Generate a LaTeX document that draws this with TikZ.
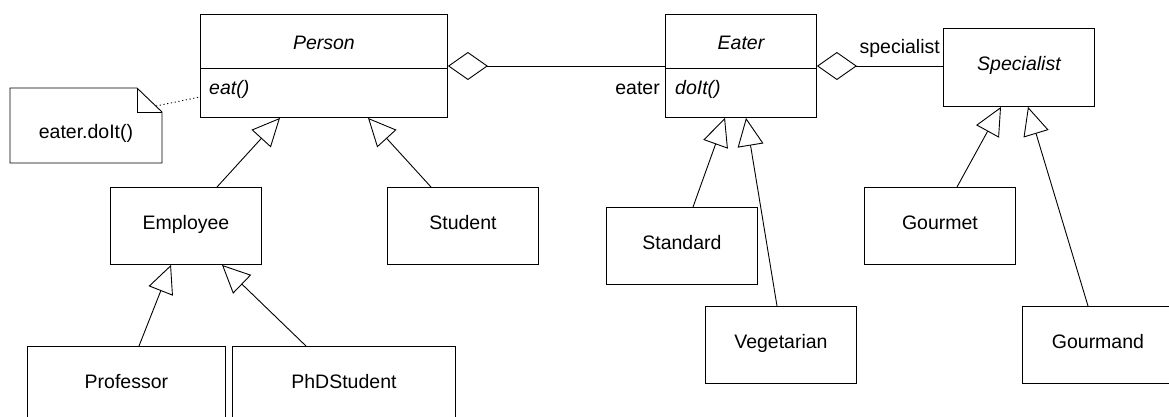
\documentclass[tikz,border=0pt]{standalone}
\usepackage{fontspec}
\setmainfont{Liberation Sans}
\usetikzlibrary{arrows.meta}
\begin{document}
\begin{tikzpicture}[x=1pt,y=-1pt,
  every node/.style={font=\fontsize{19.5}{23}\selectfont},
  cls/.style={draw, line width=0.9pt, anchor=north west, inner sep=0pt,
    minimum width=151pt, text height=42pt, text depth=35pt},
  abscls/.style={cls, font=\fontsize{19.5}{23}\selectfont\itshape},
  meth/.style={anchor=base west, inner sep=0pt, font=\fontsize{19.5}{23}\selectfont\itshape},
  role/.style={anchor=base east, inner sep=0pt},
  gen/.style={draw, line width=0.9pt, -{Triangle[open,length=28pt,width=26pt,line width=0.9pt]}},
  agg/.style={draw, line width=0.9pt, {Diamond[open,length=40pt,width=28pt,line width=0.9pt]}-},
  notelink/.style={draw, line width=0.9pt, dash pattern=on 1.2pt off 2.6pt},
  noteshape/.style={draw, line width=0.9pt, line join=miter}
]
\fill[white] (0,0) rectangle (1169,416);
\useasboundingbox (0,0) rectangle (1169,416);
\clip (0,0) rectangle (1169,416);

% classes with operations
\node[abscls, minimum width=247pt, text height=35pt, text depth=68pt] (person) at (200,14) {Person};
\node[abscls, text height=35pt, text depth=68pt] (eater) at (665,14) {Eater};
\node[abscls, text height=42pt, text depth=36pt] (specialist) at (943,28) {Specialist};
\draw[line width=0.9pt] ([yshift=-54pt]person.north west) -- ([yshift=-54pt]person.north east);
\draw[line width=0.9pt] ([yshift=-54pt]eater.north west) -- ([yshift=-54pt]eater.north east);
\node[meth] (eatop) at (209,94) {eat()};
\node[meth] (doitop) at (675,94) {doIt()};

% subclasses
\node[cls] (employee) at (110,187) {Employee};
\node[cls] (student) at (387,187) {Student};
\node[cls, minimum width=198pt] (professor) at (27,346) {Professor};
\node[cls, minimum width=223pt] (phd) at (232,346) {PhDStudent};
\node[cls] (standard) at (606,207) {Standard};
\node[cls] (vegetarian) at (705,306) {Vegetarian};
\node[cls] (gourmet) at (864,187) {Gourmet};
\node[cls] (gourmand) at (1022,306) {Gourmand};

% note
\draw[noteshape] (10,88) -- (137,88) -- (162,112) -- (162,163) -- (10,163) -- cycle;
\draw[noteshape] (137,88) -- (137,112) -- (162,112);
\node[anchor=base, inner sep=0pt] (note) at (86,138) {eater.doIt()};
\coordinate (notecorner) at (156,106);
\path[notelink] (notecorner) -- ([yshift=-83pt]person.north west);

% aggregations
\path[agg] ([yshift=-52pt]person.north east) -- ([yshift=-52pt]eater.north west);
\path[agg] ([yshift=-52pt]eater.north east) -- ([yshift=-38pt]specialist.north west);
\node[role] (eaterrole) at (660,94) {eater};
\node[role] (specrole) at (940,53) {specialist};

% generalizations
\path[gen] ([xshift=107pt]employee.north west) -- ([xshift=80pt]person.south west);
\path[gen] ([xshift=44pt]student.north west) -- ([xshift=168pt]person.south west);
\path[gen] ([xshift=112pt]professor.north west) -- ([xshift=61pt]employee.south west);
\path[gen] ([xshift=74pt]phd.north west) -- ([xshift=112pt]employee.south west);
\path[gen] ([xshift=87pt]standard.north west) -- ([xshift=60pt]eater.south west);
\path[gen] ([xshift=72pt]vegetarian.north west) -- ([xshift=81pt]eater.south west);
\path[gen] ([xshift=93pt]gourmet.north west) -- ([xshift=58pt]specialist.south west);
\path[gen] ([xshift=66pt]gourmand.north west) -- ([xshift=85pt]specialist.south west);
\end{tikzpicture}
\end{document}
